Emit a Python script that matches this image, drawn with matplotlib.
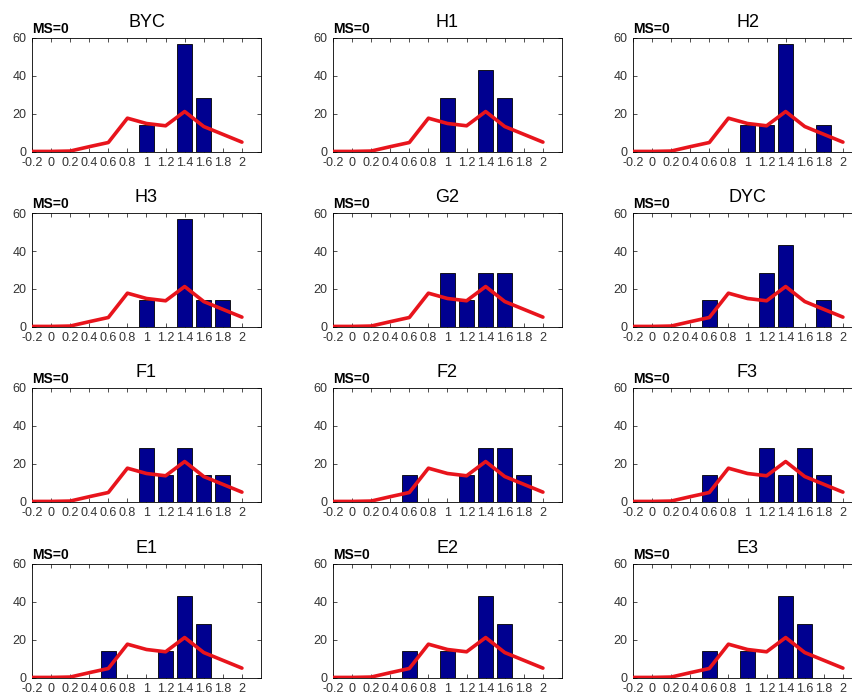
import matplotlib
matplotlib.use("Agg")
import matplotlib.pyplot as plt

plt.rcParams['font.family'] = ['Liberation Sans', 'DejaVu Sans']
plt.rcParams['axes.unicode_minus'] = False

# bin centres shared by every panel
bins = [-0.2, 0, 0.2, 0.4, 0.6, 0.8, 1.0, 1.2, 1.4, 1.6, 1.8, 2.0]

# reference curve (same in all panels)
ref_curve = [0.3, 0.3, 0.5, 2.8, 5.0, 17.8, 15.0, 13.8, 21.3, 13.4, 9.3, 5.2]

names = ['BYC', 'H1', 'H2', 'H3', 'G2', 'DYC', 'F1', 'F2', 'F3', 'E1', 'E2', 'E3']

BYC = [0, 0, 0, 0, 0, 0, 14.3, 0, 57.1, 28.6, 0, 0]
H1  = [0, 0, 0, 0, 0, 0, 28.6, 0, 42.9, 28.6, 0, 0]
H2  = [0, 0, 0, 0, 0, 0, 14.3, 14.3, 57.1, 0, 14.3, 0]
H3  = [0, 0, 0, 0, 0, 0, 14.3, 0, 57.1, 14.3, 14.3, 0]
G2  = [0, 0, 0, 0, 0, 0, 28.6, 14.3, 28.6, 28.6, 0, 0]
DYC = [0, 0, 0, 0, 14.3, 0, 0, 28.6, 42.9, 0, 14.3, 0]
F1  = [0, 0, 0, 0, 0, 0, 28.6, 14.3, 28.6, 14.3, 14.3, 0]
F2  = [0, 0, 0, 0, 14.3, 0, 0, 14.3, 28.6, 28.6, 14.3, 0]
F3  = [0, 0, 0, 0, 14.3, 0, 0, 28.6, 14.3, 28.6, 14.3, 0]
E1  = [0, 0, 0, 0, 14.3, 0, 0, 14.3, 42.9, 28.6, 0, 0]
E2  = [0, 0, 0, 0, 14.3, 0, 14.3, 0, 42.9, 28.6, 0, 0]
E3  = [0, 0, 0, 0, 14.3, 0, 14.3, 0, 42.9, 28.6, 0, 0]
heights = [BYC, H1, H2, H3, G2, DYC, F1, F2, F3, E1, E2, E3]

xticks = [-0.2, 0, 0.2, 0.4, 0.6, 0.8, 1, 1.2, 1.4, 1.6, 1.8, 2]
xticklabels = ['-0.2', '0', '0.2', '0.4', '0.6', '0.8', '1', '1.2', '1.4', '1.6', '1.8', '2']

W, H = 853, 700
fig = plt.figure(figsize=(W / 100, H / 100), dpi=100)

col_left = [32, 333, 633]
row_top = [38, 213, 388, 564]
ax_w, ax_h = 229, 114

for i, (name, h) in enumerate(zip(names, heights)):
    r, c = divmod(i, 3)
    ax = fig.add_axes([col_left[c] / W, 1 - (row_top[r] + ax_h) / H, ax_w / W, ax_h / H])
    ax.bar(bins, h, width=0.16, color='#000090', edgecolor='black', linewidth=0.6, zorder=2)
    ax.plot(bins, ref_curve, color='#e8141c', linewidth=2.6, zorder=3, solid_capstyle='round')
    ax.set_xlim(-0.2, 2.2)
    ax.set_ylim(0, 60)
    ax.set_xticks(xticks)
    ax.set_xticklabels(xticklabels)
    ax.set_yticks([0, 20, 40, 60])
    ax.tick_params(direction='in', length=3, width=0.6, top=True, right=True,
                   labelsize=9, colors='#333333')
    ax.tick_params(axis='x', pad=3.5)
    ax.tick_params(axis='y', pad=4)
    for s in ax.spines.values():
        s.set_linewidth(0.6)
    ax.set_title(name, fontsize=13, pad=8)
    ax.text(0, 1.02, 'MS=0', transform=ax.transAxes, ha='left', va='bottom',
            fontsize=10, fontweight='bold')

fig.savefig('out.png', dpi=100, facecolor='white')
